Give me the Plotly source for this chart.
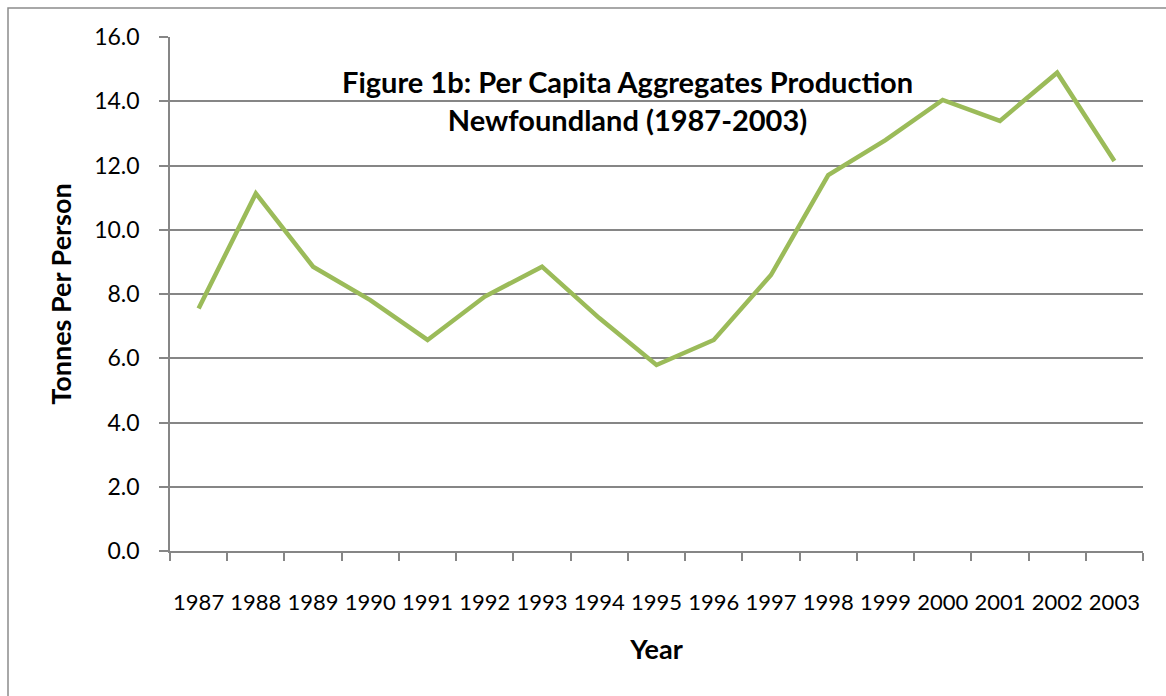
import plotly.graph_objects as go

# Per capita aggregates production, Newfoundland
years = [str(y) for y in range(1987, 2004)]
tonnes_per_person = [7.55, 11.13, 8.85, 7.81, 6.57, 7.92, 8.85, 7.25, 5.79,
                     6.57, 8.59, 11.70, 12.79, 14.04, 13.39, 14.89, 12.14]
y_ticks = [0, 2, 4, 6, 8, 10, 12, 14, 16]

W, H = 1166, 696
L, R, T, B = 170, 23, 37, 145
pw, ph = W - L - R, H - T - B

def px_x(x):
    return (x - L) / pw

def px_y(y):
    return (H - B - y) / ph

FONT = "Lato, Carlito, Calibri, 'Open Sans', sans-serif"
GRID = "#868686"

fig = go.Figure()
fig.add_trace(go.Scatter(
    x=years, y=tonnes_per_person, mode="lines",
    line=dict(color="#9BBB59", width=4.5),
    hoverinfo="x+y", showlegend=False,
))

fig.update_layout(
    width=W, height=H,
    margin=dict(l=L, r=R, t=T, b=B, pad=0, autoexpand=False),
    paper_bgcolor="white", plot_bgcolor="white",
    font=dict(family=FONT, size=23, color="black"),
    xaxis=dict(
        type="category", tickson="boundaries", range=[-0.5, 16.5],
        tickangle=0, automargin=False,
        ticks="outside", ticklen=8, tickcolor=GRID, tickwidth=1.5,
        showline=True, linecolor=GRID, linewidth=1.5,
        showgrid=False, tickfont=dict(size=22), ticklabelstandoff=31,
        title=dict(text="<b>Year</b>", font=dict(size=27), standoff=26),
    ),
    yaxis=dict(
        range=[0, 16], tickvals=y_ticks, tickformat=".1f", automargin=False,
        ticks="outside", ticklen=9, tickcolor=GRID, tickwidth=1.5,
        showline=True, linecolor=GRID, linewidth=1.5,
        showgrid=True, gridcolor=GRID, gridwidth=1.5,
        zeroline=False, tickfont=dict(size=23), ticklabelstandoff=15,
        title=dict(text="<b>Tonnes Per Person</b>", font=dict(size=27), standoff=15),
    ),
    shapes=[dict(
        type="rect", xref="paper", yref="paper",
        x0=px_x(8), x1=px_x(1175), y0=px_y(705), y1=px_y(8),
        line=dict(color="#8c8c8c", width=1.5), fillcolor="rgba(0,0,0,0)",
        layer="below",
    )],
    annotations=[dict(
        text="<b>Figure 1b: Per Capita Aggregates Production<br>Newfoundland (1987-2003)</b>",
        xref="paper", yref="paper", x=px_x(627), y=px_y(100),
        xanchor="center", yanchor="middle", showarrow=False,
        font=dict(size=29, color="black", family=FONT), align="center",
    )],
)

fig.write_html("out.html")
